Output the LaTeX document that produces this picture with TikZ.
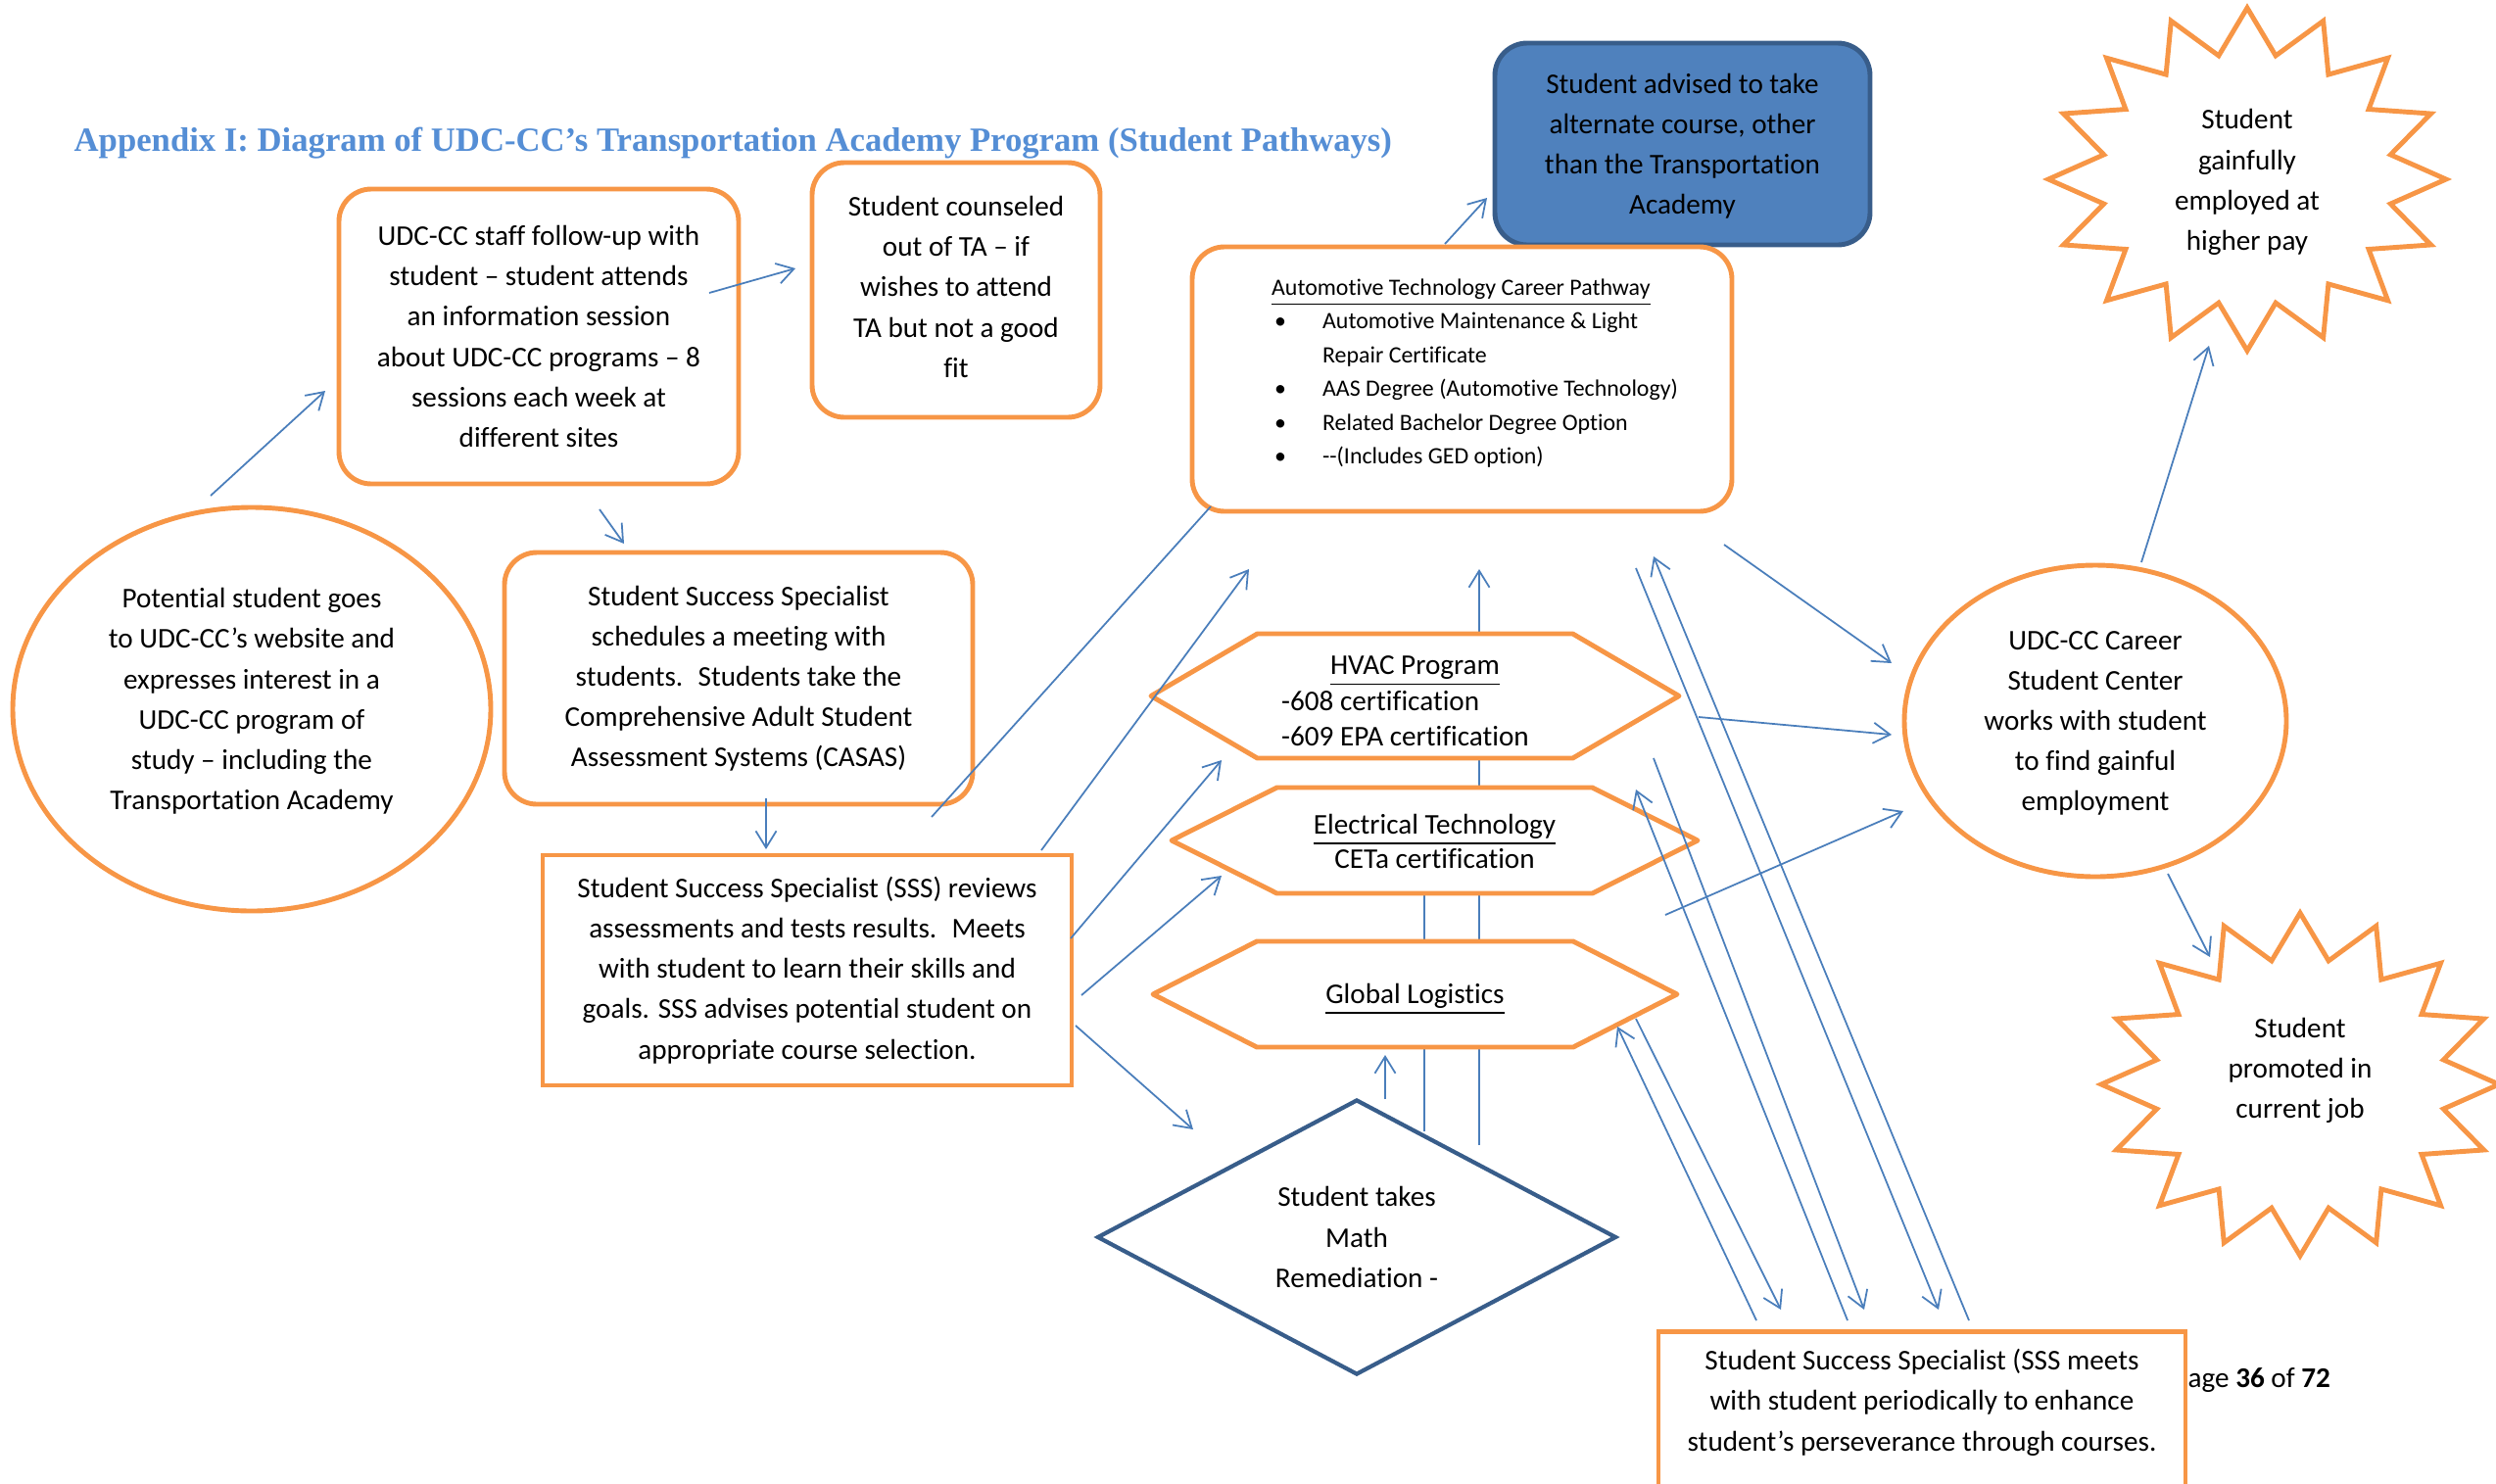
\documentclass[tikz,border=0pt]{standalone}
\usepackage{fontspec}
\setmainfont{Carlito}[Ligatures={TeX,CommonOff}]
\newfontfamily\titlefont{Liberation Serif}
\usetikzlibrary{arrows.meta,shapes.geometric}

\definecolor{boxorange}{HTML}{F79646}
\definecolor{lineblue}{HTML}{4A7EBB}
\definecolor{darkblue}{HTML}{385D8A}
\definecolor{fillblue}{HTML}{4F81BD}
\definecolor{titleblue}{HTML}{558ED5}

\tikzset{
  flow/.style={draw=lineblue, line width=0.5pt, -{Straight Barb[length=1.7mm,width=2.1mm]}},
  plainline/.style={draw=lineblue, line width=0.5pt},
  roundbox/.style={draw=boxorange, line width=1.4pt, fill=white, rounded corners=0.33cm, align=center, inner sep=0pt},
  squarebox/.style={draw=boxorange, line width=1.4pt, fill=white, align=center, inner sep=0pt},
  oval/.style={ellipse, draw=boxorange, line width=1.4pt, fill=white, align=center, inner sep=0pt},
  hexline/.style={draw=boxorange, line width=1.4pt, fill=white, line join=round},
  burst/.style={draw=boxorange, line width=1.4pt, fill=white, line join=miter},
}

% 16 point star round (#1,#2)
\newcommand{\burst}[2]{%
  \draw[burst, shift={(#1,#2)}] (90:2.03 and 1.75)
    \foreach \k [evaluate=\k as \r using {mod(\k,2)==0 ? 1 : 0.735}] in {1,...,31}
      { -- ({90+11.25*\k}:{2.03*\r} and {1.75*\r}) } -- cycle;}
% hexagon: centre, half width, corner, half height
\newcommand{\hexagon}[5]{%
  \draw[hexline, shift={(#1,#2)}] (-#3,0) -- (-#4,-#5) -- (#4,-#5) -- (#3,0) -- (#4,#5) -- (-#4,#5) -- cycle;}
\newcommand{\bul}{\hspace*{0.3mm}\makebox[4.9mm][l]{\textbullet}}

\begin{document}
\begin{tikzpicture}[x=1cm, y=-1cm, font=\fontsize{8.3}{11.7}\selectfont]
\useasboundingbox (0,0) rectangle (25.48,15.15);

% arrow ends
\coordinate (web-out) at (2.15,5.06);   \coordinate (staff-in) at (3.32,3.99);
\coordinate (staff-out) at (7.24,2.99); \coordinate (couns-in) at (8.12,2.74);
\coordinate (staff-low) at (6.12,5.20); \coordinate (sched-in) at (6.37,5.55);
\coordinate (sched-out) at (7.82,8.15); \coordinate (rev-in) at (7.82,8.67);
\coordinate (rev-top) at (9.51,8.34);   \coordinate (auto-corner) at (12.36,5.17);
\coordinate (rev-a) at (10.63,8.68);    \coordinate (auto-in) at (12.75,5.81);
\coordinate (rev-b) at (10.93,9.58);    \coordinate (hvac-in) at (12.47,7.76);
\coordinate (rev-c) at (11.04,10.16);   \coordinate (elec-in) at (12.47,8.94);
\coordinate (rev-d) at (10.98,10.47);   \coordinate (math-in) at (12.18,11.53);
\coordinate (math-a) at (15.10,11.69);  \coordinate (auto-up) at (15.10,5.81);
\coordinate (math-b) at (14.54,11.55);  \coordinate (elec-low) at (14.54,9.12);
\coordinate (math-c) at (14.14,11.22);  \coordinate (glob-in) at (14.14,10.77);
\coordinate (auto-out) at (14.75,2.49); \coordinate (alt-in) at (15.18,2.02);
\coordinate (car-top) at (21.86,5.74);  \coordinate (emp-in) at (22.55,3.53);
\coordinate (car-low) at (22.13,8.92);  \coordinate (prom-in) at (22.56,9.77);
\coordinate (auto-se) at (17.60,5.56);  \coordinate (car-a) at (19.31,6.77);
\coordinate (hvac-out) at (17.34,7.32); \coordinate (car-b) at (19.31,7.50);
\coordinate (glob-out) at (17.00,9.34); \coordinate (car-c) at (19.43,8.28);
\coordinate (sss-a) at (17.93,13.48);   \coordinate (glob-se) at (16.51,10.48);
\coordinate (glob-ne) at (16.70,10.40); \coordinate (sss-b) at (18.18,13.37);
\coordinate (sss-c) at (18.86,13.48);   \coordinate (elec-se) at (16.70,8.06);
\coordinate (elec-ne) at (16.88,7.74);  \coordinate (sss-d) at (19.03,13.37);
\coordinate (sss-e) at (20.10,13.48);   \coordinate (auto-se2) at (16.88,5.68);
\coordinate (auto-se3) at (16.70,5.80); \coordinate (sss-f) at (19.79,13.37);

% lines behind the programs
\draw[flow] (math-a) -- (auto-up);
\draw[plainline] (math-b) -- (elec-low);

\node[anchor=west, inner sep=0pt, text=titleblue, font=\titlefont\bfseries\fontsize{9.87}{12}\selectfont] (title) at (0.75,1.46)
  {Appendix I: Diagram of UDC-CC’s Transportation Academy Program (Student Pathways)};

\node[oval, minimum width=4.88cm, minimum height=4.12cm, text depth=6pt] (website) at (2.57,7.24)
  {Potential student goes\\to UDC-CC’s website and\\expresses interest in a\\UDC-CC program of\\study – including the\\Transportation Academy};
\node[roundbox, minimum width=4.08cm, minimum height=3.01cm] (staff) at (5.50,3.435)
  {UDC-CC staff follow-up with\\student – student attends\\an information session\\about UDC-CC programs – 8\\sessions each week at\\different sites};
\node[roundbox, minimum width=2.94cm, minimum height=2.60cm, text depth=1.8pt] (couns) at (9.76,2.96)
  {Student counseled\\out of TA – if\\wishes to attend\\TA but not a good\\fit};
\node[roundbox, minimum width=4.78cm, minimum height=2.57cm] (sched) at (7.54,6.925)
  {Student Success Specialist\\schedules a meeting with\\students.~ Students take the\\Comprehensive Adult Student\\Assessment Systems (CASAS)};
\node[squarebox, minimum width=5.40cm, minimum height=2.35cm] (review) at (8.24,9.905)
  {Student Success Specialist (SSS) reviews\\assessments and tests results.~ Meets\\with student to learn their skills and\\goals. SSS advises potential student on\\appropriate course selection.};
\node[roundbox, draw=darkblue, fill=fillblue, minimum width=3.83cm, minimum height=2.06cm, text depth=0pt] (alt) at (17.175,1.47)
  {Student advised to take\\alternate course, other\\than the Transportation\\Academy};
\node[roundbox, minimum width=5.51cm, minimum height=2.70cm] (auto) at (14.925,3.87) {};
\node[align=left, inner sep=0pt, font=\fontsize{6.8}{9.8}\selectfont] (autotext) at (15.055,3.81)
  {\underline{Automotive Technology Career Pathway}\\
   \bul Automotive Maintenance \& Light\\
   \hspace*{5.2mm}Repair Certificate\\
   \bul AAS Degree (Automotive Technology)\\
   \bul Related Bachelor Degree Option\\
   \bul -{}-(Includes GED option)};

% programs
\hexagon{14.445}{7.105}{2.695}{1.61}{0.635}
\node (hvac) at (14.345,7.18) {\fontsize{8.3}{10.2}\selectfont\begin{tabular}{@{}l@{}}
  \multicolumn{1}{@{}c@{}}{\hspace*{2mm}\underline{HVAC Program}}\\ -608 certification\\ -609 EPA certification\end{tabular}};
\hexagon{14.645}{8.58}{2.685}{1.61}{0.54}
\node[align=center, font=\fontsize{8.3}{10.2}\selectfont] (elec) at (14.645,8.59)
  {\underline{Electrical Technology}\\CETa certification};
\hexagon{14.445}{10.15}{2.675}{1.615}{0.54}
\node (glob) at (14.445,10.20) {\underline{Global Logistics}};

\node[diamond, draw=darkblue, line width=1.2pt, fill=white, minimum width=5.30cm, minimum height=2.81cm, inner sep=0pt, align=center] (math) at (13.85,12.63)
  {Student takes\\Math\\Remediation -};

\node[oval, minimum width=3.90cm, minimum height=3.18cm, text depth=0pt] (career) at (21.39,7.36)
  {UDC-CC Career\\Student Center\\works with student\\to find gainful\\employment};

\burst{22.94}{1.83}
\node[align=center] (employed) at (22.94,1.86) {Student\\gainfully\\employed at\\higher pay};
\burst{23.48}{11.07}
\node[align=center] (promoted) at (23.48,10.93) {Student\\promoted in\\current job};

\node[anchor=west, inner sep=0pt] (pagenum) at (22.33,14.09) {age \textbf{36} of \textbf{72}};
\node[squarebox, minimum width=5.38cm, anchor=north, inner ysep=1.8mm, text depth=1.2cm] (sss) at (19.62,13.57)
  {Student Success Specialist (SSS meets\\with student periodically to enhance\\student’s perseverance through courses.};

% connectors
\draw[plainline] (rev-top) -- (auto-corner);
\foreach \a/\b in {web-out/staff-in, staff-out/couns-in, staff-low/sched-in, sched-out/rev-in,
    rev-a/auto-in, rev-b/hvac-in, rev-c/elec-in, rev-d/math-in, math-c/glob-in,
    auto-out/alt-in, car-top/emp-in, car-low/prom-in, auto-se/car-a, hvac-out/car-b, glob-out/car-c,
    sss-a/glob-se, glob-ne/sss-b, sss-c/elec-se, elec-ne/sss-d, sss-e/auto-se2, auto-se3/sss-f}
  \draw[flow] (\a) -- (\b);
\end{tikzpicture}
\end{document}
